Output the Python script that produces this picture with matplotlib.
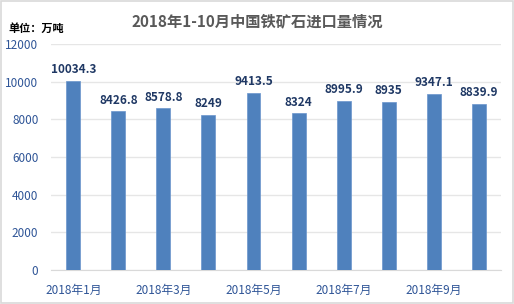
import matplotlib
matplotlib.use("Agg")
import matplotlib.pyplot as plt
import numpy as np

plt.rcParams['font.family'] = ['Noto Sans CJK SC', 'DejaVu Sans']

meses = ["2018年1月", "2018年2月", "2018年3月", "2018年4月", "2018年5月",
         "2018年6月", "2018年7月", "2018年8月", "2018年9月", "2018年10月"]
importacao = [10034.3, 8426.8, 8578.8, 8249, 9413.5, 8324, 8995.9, 8935, 9347.1, 8839.9]
rotulos = ["10034.3", "8426.8", "8578.8", "8249", "9413.5", "8324", "8995.9", "8935", "9347.1", "8839.9"]
y_ticks = [0, 2000, 4000, 6000, 8000, 10000, 12000]

fig = plt.figure(figsize=(5.14, 3.04), dpi=100)
fig.patch.set_facecolor("white")
# borda cinza em volta do gráfico
fig.add_artist(plt.Rectangle((0.001, 0.002), 0.997, 0.995, transform=fig.transFigure,
                             fill=False, edgecolor="#D9D9D9", linewidth=1.2))

ax = fig.add_axes([0.099, 0.112, 0.876, 0.743])
x = np.arange(len(meses))
ax.bar(x, importacao, width=0.31, color="#4F81BD", edgecolor="#6A95CC", linewidth=0.5, zorder=3)

for xi, val, txt in zip(x, importacao, rotulos):
    ax.text(xi, val + 250, txt, ha="center", va="bottom", fontsize=8.5,
            fontweight="bold", color="#1F3864", zorder=4)

ax.set_xlim(-0.5, len(meses) - 0.5)
ax.set_ylim(0, 12000)
ax.set_yticks(y_ticks)
ax.set_yticklabels([str(t) for t in y_ticks], color="#2F5597", fontsize=8.5)
ax.set_xticks(x[::2])
ax.set_xticklabels(meses[::2], color="#2F5597", fontsize=8.5)
ax.tick_params(axis="y", length=0, pad=9)
ax.tick_params(axis="x", length=0, pad=10)
ax.grid(axis="y", color="#E6E6E6", linewidth=1, zorder=0)
for s in ["top", "right", "left"]:
    ax.spines[s].set_visible(False)
ax.spines["bottom"].set_color("#D9D9D9")

fig.text(0.5, 0.93, "2018年1-10月中国铁矿石进口量情况", ha="center", va="center",
         fontsize=11, fontweight="bold", color="#595959")
fig.text(0.016, 0.905, "单位：万吨", ha="left", va="center", fontsize=8,
         fontweight="bold", color="#000000")

fig.savefig("out.png", dpi=100)
